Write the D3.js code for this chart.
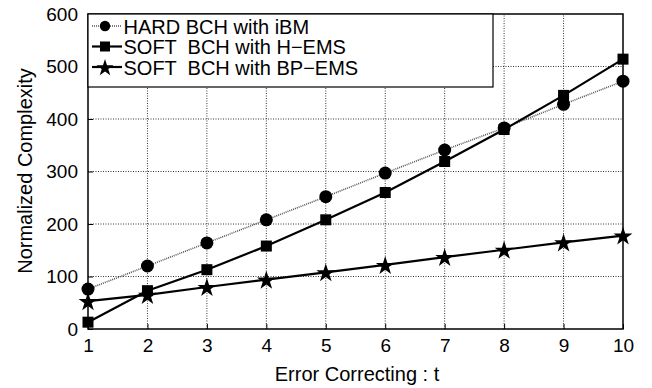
<!DOCTYPE html>
<html>
<head>
<meta charset="utf-8">
<style>
	*{ margin:0; padding:0; }
	body{ background:#fff; }
	svg{ display:block; font-family:"Liberation Sans", Arial, sans-serif; }
	text{ white-space:pre; }
</style>
</head>
<body>
<script src="https://cdn.jsdelivr.net/npm/d3@7"></script>
<script>
// data
var tValues = [1,2,3,4,5,6,7,8,9,10];
var hardIBM = [76,120,164,208,252,297,341,383,428,472];
var softHEMS = [13,73,113,158,208,260,319,380,445,514];
var softBPEMS = [53,65,80,94,108,122,137,151,165,178];
var yTicks = [0,100,200,300,400,500,600];
var seriesNames = ["HARD BCH with iBM","SOFT  BCH with H\u2212EMS","SOFT  BCH with BP\u2212EMS"];

var width = 652, height = 388;
var margin = {top:14, right:29, bottom:59, left:88};

var svg = d3.select("body").append("svg")
	.attr("width", width).attr("height", height);

var x = d3.scaleLinear().domain([1,10]).range([margin.left, width - margin.right]);
var y = d3.scaleLinear().domain([0,600]).range([height - margin.bottom, margin.top]);

// grid
var grid = svg.append("g").attr("stroke","#000").attr("stroke-width",0.8).attr("stroke-dasharray","1,1.5");
grid.selectAll("line.v").data(tValues.slice(1,-1)).join("line")
	.attr("x1",d=>x(d)).attr("x2",d=>x(d))
	.attr("y1",y(0)).attr("y2",y(600));
grid.selectAll("line.h").data(yTicks.slice(1,-1)).join("line")
	.attr("x1",x(1)).attr("x2",x(10))
	.attr("y1",d=>y(d)).attr("y2",d=>y(d));

// axes
svg.append("g")
	.attr("transform",`translate(0,${y(0)})`)
	.call(d3.axisBottom(x).tickValues(tValues).tickFormat(d3.format("d")).tickSizeInner(-5).tickSizeOuter(0).tickPadding(10))
	.call(g=>g.selectAll("text").attr("font-size",19).attr("fill","#000").attr("font-family","Liberation Sans, Arial, sans-serif"));
svg.append("g")
	.attr("transform",`translate(${margin.left},0)`)
	.call(d3.axisLeft(y).tickValues(yTicks).tickSizeInner(-5).tickSizeOuter(0).tickPadding(10))
	.call(g=>g.selectAll("text").attr("font-size",19).attr("fill","#000").attr("font-family","Liberation Sans, Arial, sans-serif"));
svg.selectAll(".domain").remove();

// frame
svg.append("rect")
	.attr("x",x(1)).attr("y",y(600))
	.attr("width",x(10)-x(1)).attr("height",y(0)-y(600))
	.attr("fill","none").attr("stroke","#000").attr("stroke-width",1.5);

var line = d3.line().x((d,i)=>x(tValues[i])).y(d=>y(d));

// series
svg.append("path").datum(hardIBM).attr("d",line)
	.attr("fill","none").attr("stroke","#555").attr("stroke-width",1.6).attr("stroke-dasharray","1,1");
svg.append("path").datum(softHEMS).attr("d",line)
	.attr("fill","none").attr("stroke","#000").attr("stroke-width",2.2);
svg.append("path").datum(softBPEMS).attr("d",line)
	.attr("fill","none").attr("stroke","#000").attr("stroke-width",2.2);

var star = d3.symbol().type(d3.symbolStar).size(110);

svg.append("g").selectAll("rect").data(softHEMS).join("rect")
	.attr("x",(d,i)=>x(tValues[i])-5.5).attr("y",d=>y(d)-5.5)
	.attr("width",11).attr("height",11).attr("fill","#000");
svg.append("g").selectAll("circle").data(hardIBM).join("circle")
	.attr("cx",(d,i)=>x(tValues[i])).attr("cy",d=>y(d)).attr("r",6.5).attr("fill","#000");
svg.append("g").selectAll("path").data(softBPEMS).join("path")
	.attr("d",star).attr("transform",(d,i)=>`translate(${x(tValues[i])},${y(d)+1})`).attr("fill","#000");

// legend
var lg = svg.append("g");
lg.append("rect").attr("x",x(1)).attr("y",y(600)).attr("width",405).attr("height",73)
	.attr("fill","#fff").attr("stroke","#000").attr("stroke-width",1.2);
var rows = [26,46.5,67];
seriesNames.forEach(function(name,i){
	var ry = rows[i];
	lg.append("line").attr("x1",92).attr("x2",122).attr("y1",ry).attr("y2",ry)
		.attr("stroke", i==0 ? "#555" : "#000")
		.attr("stroke-width", i==0 ? 1.6 : 2.2)
		.attr("stroke-dasharray", i==0 ? "1,1" : null);
	if(i==0) lg.append("circle").attr("cx",105).attr("cy",ry).attr("r",5.2).attr("fill","#000");
	if(i==1) lg.append("rect").attr("x",100).attr("y",ry-5).attr("width",10).attr("height",10).attr("fill","#000");
	if(i==2) lg.append("path").attr("d",d3.symbol().type(d3.symbolStar).size(90)).attr("transform",`translate(105,${ry+1})`).attr("fill","#000");
	lg.append("text").attr("x",123.5).attr("y",ry+7.5).attr("font-size",20).text(name);
});

// axis titles
svg.append("text").attr("x",357).attr("y",381).attr("text-anchor","middle").attr("font-size",20).text("Error Correcting : t");
svg.append("text").attr("transform","translate(32,171) rotate(-90)").attr("text-anchor","middle").attr("font-size",20).text("Normalized Complexity");
</script>
</body>
</html>
